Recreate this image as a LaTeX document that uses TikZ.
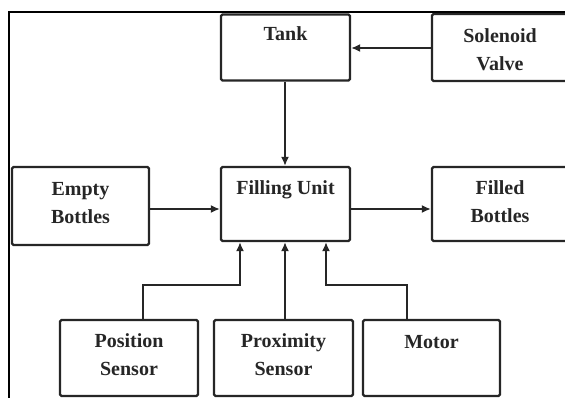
\documentclass[tikz,border=0pt]{standalone}
\usepackage{fontspec}
\setmainfont{Liberation Serif}
\usetikzlibrary{arrows.meta,calc}
\begin{document}
\begin{tikzpicture}[x=1pt,y=-1pt,
  blk/.style={draw=black!85, line width=2.2pt, rounded corners=1.5pt, inner sep=0pt, fill=white},
  lbl/.style={font=\fontsize{20}{28}\selectfont\bfseries, align=center, inner sep=0pt, anchor=north, text=black!85},
  link/.style={line width=1.9pt, draw=black!85, -{Latex[length=9pt,width=8pt]}}]
\useasboundingbox (0,0) rectangle (565,397);
\clip (0,0) rectangle (565,397);

% outer frame (left and top edges)
\draw[line width=1.8pt] (9,420) -- (9,12) -- (600,12);

% blocks
\node[blk, minimum width=129, minimum height=66] (tank)   at (285.5,47.5) {};
\node[blk, minimum width=136, minimum height=67] (sol)    at (500,47.5) {};
\node[blk, minimum width=137, minimum height=78] (empty)  at (80.5,206) {};
\node[blk, minimum width=129, minimum height=74] (fill)   at (285.5,204) {};
\node[blk, minimum width=136, minimum height=74] (filled) at (500,204) {};
\node[blk, minimum width=138, minimum height=76] (pos)    at (129,358) {};
\node[blk, minimum width=139, minimum height=76] (prox)   at (283.5,358) {};
\node[blk, minimum width=137, minimum height=76] (motor)  at (431.5,358) {};

% block texts
\node[lbl] (tankT)   at ($(tank.north)+(0,13)$)   {Tank};
\node[lbl] (solT)    at ($(sol.north)+(0,16)$)    {Solenoid\\Valve};
\node[lbl] (emptyT)  at ($(empty.north)+(0,16)$)  {Empty\\Bottles};
\node[lbl] (fillT)   at ($(fill.north)+(0,15)$)   {Filling Unit};
\node[lbl] (filledT) at ($(filled.north)+(0,15)$) {Filled\\Bottles};
\node[lbl] (posT)    at ($(pos.north)+(0,15)$)    {Position\\Sensor};
\node[lbl] (proxT)   at ($(prox.north)+(0,15)$)   {Proximity\\Sensor};
\node[lbl] (motorT)  at ($(motor.north)+(0,16)$)  {Motor};

% helper coordinates
\coordinate (toprow) at (0,48);
\coordinate (midrow) at (0,209);
\coordinate (busY) at (0,285);
\coordinate (colT) at (285,0);
\coordinate (inA) at (fill.south -| 240,0);
\coordinate (inC) at (fill.south -| 326,0);

% connectors
\draw[link] (sol.west |- toprow) -- (tank.east |- toprow);
\draw[link] (tank.south -| colT) -- (fill.north -| colT);
\draw[link] (empty.east |- midrow) -- (fill.west |- midrow);
\draw[link] (fill.east |- midrow) -- (filled.west |- midrow);
\draw[link] ([xshift=14pt]pos.north) |- (inA |- busY) -- (inA);
\draw[link] (prox.north -| colT) -- (fill.south -| colT);
\draw[link] ([xshift=-24.5pt]motor.north) |- (inC |- busY) -- (inC);
\end{tikzpicture}
\end{document}
